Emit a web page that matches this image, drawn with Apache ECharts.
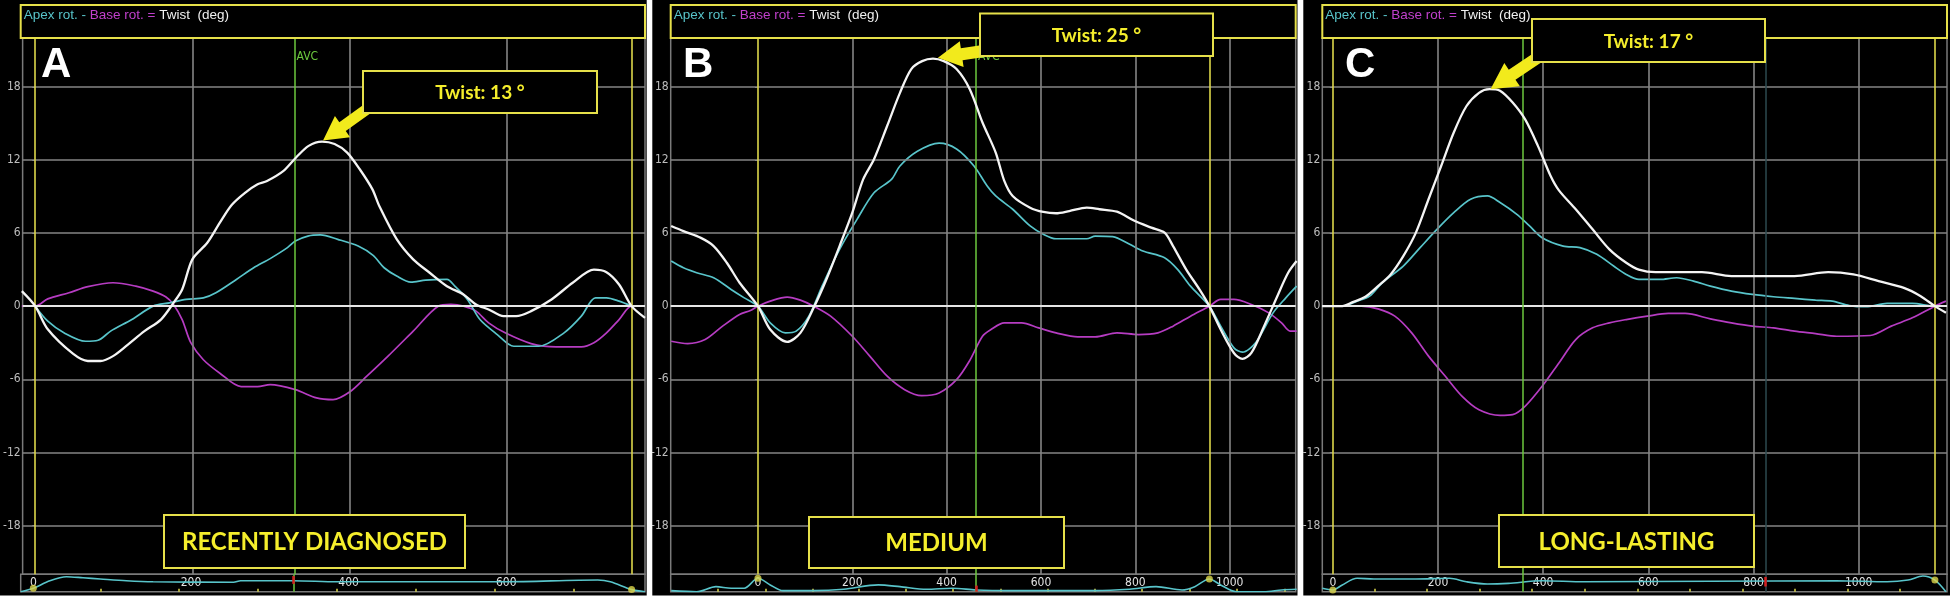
<!DOCTYPE html>
<html><head><meta charset="utf-8">
<script src="https://cdn.jsdelivr.net/npm/echarts@6/dist/echarts.min.js"></script>
<style>html,body{margin:0;padding:0;background:#fff;}#c{width:1950px;height:599px;}</style>
</head><body><div id="c"></div>
<script>
// ---------------- DATA ----------------
const yTickValues = [-18, -12, -6, 0, 6, 12, 18];
const panelLetters = ['A', 'B', 'C'];
const twistLabels = ['Twist: 13 °', 'Twist: 25 °', 'Twist: 17 °'];
const groupLabels = ['RECENTLY DIAGNOSED', 'MEDIUM', 'LONG-LASTING'];

// Panel A (time in ms, rotation in deg)
const xRangeA = [-16, 776];
const xLabelsA = [0, 200, 400, 600];
const stripTicksA = [85, 185, 285, 385, 485, 585, 685];
const eventsA = { start: 0, end: 759, avc: 330 };
const redMarkA = [330, 0.45, 0.9];
const twistA = [[-17,1.23],[0,0],[16,-1.9],[48,-3.9],[67,-4.5],[83,-4.5],[99,-4.1],[118,-3.15],[139,-2.05],[160,-1.1],[176,0.27],[187,1.37],[200,3.84],[219,5.2],[235,6.85],[250,8.3],[267,9.3],[283,10.0],[295,10.27],[316,11.1],[332,12.2],[348,13.15],[365,13.5],[381,13.3],[397,12.6],[413,11.23],[429,9.6],[438,8.2],[460,5.5],[481,3.84],[502,2.74],[524,1.64],[545,0.96],[561,0.14],[577,-0.27],[596,-0.82],[612,-0.82],[631,-0.41],[657,0.55],[684,1.92],[711,3.0],[727,2.79],[743,1.78],[759,0],[776,-0.96]];
const apexA = [[0,0],[16,-1.23],[37,-2.2],[64,-2.88],[80,-2.8],[96,-2.05],[123,-1.1],[150,0],[171,0.27],[192,0.55],[214,0.68],[230,1.1],[256,2.19],[278,3.15],[299,3.9],[321,4.8],[331,5.34],[347,5.75],[363,5.84],[385,5.48],[411,4.93],[430,4.16],[444,3.15],[460,2.47],[478,1.97],[497,2.14],[524,2.19],[534,1.64],[550,0.55],[566,-1.1],[588,-2.33],[609,-3.29],[641,-3.29],[673,-2.19],[695,-0.82],[713,0.68],[727,0.68],[743,0.41],[759,0]];
const baseA = [[-17,0],[0,0],[16,0.6],[43,1.1],[67,1.6],[99,1.92],[128,1.64],[150,1.23],[166,0.77],[176,0.14],[187,-1.1],[198,-3.0],[214,-4.4],[235,-5.5],[262,-6.6],[283,-6.6],[299,-6.44],[331,-6.85],[358,-7.53],[379,-7.67],[401,-7.0],[422,-5.75],[449,-4.1],[481,-2.05],[513,0],[529,0.14],[545,0],[561,-0.41],[577,-1.37],[598,-2.19],[631,-3.07],[663,-3.34],[695,-3.34],[711,-3.0],[727,-2.19],[743,-1.1],[759,0],[776,0]];
const stripA = [[-16,0],[0,0.2],[21,0.63],[42,0.86],[63,0.8],[85,0.73],[118,0.63],[152,0.57],[254,0.54],[263,0.63],[330,0.63],[385,0.57],[598,0.57],[716,0.67],[732,0.57],[759,0.12],[776,0]];

// Panel B
const xRangeB = [-185, 1140];
const xLabelsB = [0, 200, 400, 600, 800, 1000];
const stripTicksB = [-85, 16, 116, 214, 314, 414, 515, 614, 715, 814, 915, 1016, 1116];
const eventsB = { start: 0, end: 957, avc: 462 };
const redMarkB = [462, 0, 0.35];
const twistB = [[-184,6.58],[-158,6.16],[-121,5.6],[-94,4.93],[-66,3.56],[-39,1.92],[0,0],[26,-1.92],[62,-2.93],[90,-2.19],[118,-0.14],[145,2.19],[173,4.93],[200,7.67],[223,10.4],[246,12.05],[274,14.8],[301,17.5],[325,19.45],[348,20.1],[371,20.3],[394,20.1],[421,19.45],[449,17.8],[476,15.07],[504,12.6],[522,10.3],[540,9.04],[577,8.08],[605,7.73],[632,7.62],[660,7.8],[697,8.08],[724,7.95],[761,7.75],[798,7.0],[834,6.44],[862,6.03],[880,4.93],[908,3.0],[936,1.37],[957,0],[981,-1.92],[1009,-3.84],[1027,-4.33],[1046,-3.84],[1073,-1.64],[1101,0.82],[1124,2.74],[1142,3.7]];
const apexB = [[-184,3.7],[-158,3.15],[-130,2.74],[-94,2.33],[-57,1.37],[-29,0.68],[0,0],[26,-1.37],[58,-2.19],[81,-2.05],[108,-0.82],[136,1.64],[173,4.66],[210,7.12],[246,9.3],[283,10.4],[301,11.5],[338,12.7],[384,13.37],[421,12.9],[458,11.5],[486,9.86],[504,9.04],[540,7.95],[577,6.58],[605,5.9],[632,5.53],[669,5.53],[697,5.53],[715,5.75],[752,5.7],[788,5.07],[816,4.52],[862,3.97],[890,3.0],[917,1.64],[957,0],[981,-1.64],[1009,-3.42],[1027,-3.78],[1055,-3.0],[1092,-0.55],[1119,0.68],[1142,1.64]];
const baseB = [[-184,-2.88],[-149,-3.07],[-112,-2.74],[-75,-1.64],[-39,-0.68],[-16,-0.36],[0,0],[26,0.41],[62,0.74],[90,0.49],[118,0],[154,-0.82],[200,-2.47],[237,-4.1],[274,-5.75],[311,-6.85],[347,-7.34],[384,-7.12],[421,-6.03],[448,-4.52],[476,-2.47],[494,-1.92],[522,-1.37],[559,-1.37],[595,-1.78],[632,-2.19],[678,-2.52],[715,-2.52],[761,-2.19],[807,-2.33],[848,-2.19],[880,-1.64],[917,-0.82],[957,0],[981,0.55],[1009,0.55],[1046,0.14],[1083,-0.55],[1110,-1.37],[1128,-2.05],[1142,-2.05]];
const stripB = [[-184,0.06],[-130,0],[-89,0.29],[-57,0.2],[-29,0.2],[0,0.77],[26,0.39],[53,0.06],[118,0.06],[182,0.14],[255,0.39],[301,0.29],[357,0.14],[412,0.2],[462,0.1],[531,0.06],[715,0.06],[788,0.14],[844,0.29],[899,0.1],[926,0.29],[957,0.73],[981,0.39],[1014,0],[1073,0],[1110,0.1],[1142,0.14]];

// Panel C
const xRangeC = [-20, 1168];
const xLabelsC = [0, 200, 400, 600, 800, 1000];
const stripTicksC = [79, 179, 279, 379, 479, 579, 679, 779, 879, 979, 1079];
const eventsC = { start: 0, end: 1145, avc: 361, mark: 823 };
const redMarkC = [823, 0.3, 0.85];
const twistC = [[-20,0],[18,0],[38,0.33],[62,0.77],[86,1.64],[110,2.6],[134,4.1],[158,6.03],[182,8.77],[206,11.5],[230,14.25],[254,16.4],[278,17.5],[298,17.8],[318,17.67],[342,16.7],[366,15.3],[390,13.15],[414,10.7],[430,9.5],[462,7.95],[494,6.3],[526,4.66],[558,3.56],[582,3.0],[614,2.79],[702,2.79],[758,2.47],[878,2.47],[942,2.79],[990,2.6],[1038,2.05],[1086,1.5],[1118,0.82],[1145,0],[1166,-0.55]];
const apexC = [[-20,0],[18,0],[46,0.41],[70,0.82],[94,1.92],[134,3.29],[166,4.8],[198,6.3],[230,7.67],[262,8.77],[294,9.04],[318,8.5],[350,7.53],[374,6.58],[398,5.62],[438,4.93],[470,4.8],[502,4.25],[534,3.29],[558,2.6],[582,2.19],[622,2.19],[654,2.33],[686,2.05],[718,1.64],[758,1.23],[798,0.96],[838,0.77],[878,0.63],[918,0.49],[950,0.41],[982,0.05],[1014,-0.05],[1054,0.22],[1102,0.22],[1145,0],[1166,0]];
const baseC = [[-20,0],[54,0],[86,-0.22],[118,-0.82],[150,-2.19],[182,-4.1],[214,-5.75],[246,-7.4],[278,-8.5],[318,-8.96],[342,-8.9],[366,-8.2],[398,-6.58],[430,-4.66],[462,-2.74],[494,-1.78],[526,-1.37],[558,-1.1],[598,-0.82],[638,-0.6],[670,-0.6],[718,-1.04],[758,-1.37],[798,-1.64],[838,-1.78],[878,-2.05],[918,-2.25],[958,-2.47],[1022,-2.41],[1062,-1.64],[1102,-0.96],[1145,0],[1166,0.41]];
const stripC = [[-20,0.2],[0,0.1],[18,0.39],[46,0.77],[78,0.73],[158,0.73],[222,0.77],[254,0.57],[294,0.44],[334,0.48],[398,0.63],[478,0.57],[958,0.63],[1054,0.57],[1094,0.67],[1122,0.9],[1145,0.67],[1166,0]];

// ---------------- STYLE / LAYOUT ----------------
const COL = {
  twist: '#f4f4f4', apex: '#58c4ca', base: '#b63cc2', grid: '#858585', zero: '#e6e6e6',
  yellow: '#dcd64a', green: '#6cc83e', red: '#d42020', label: '#bdbdbd', stripLabel: '#e2e2e2',
  box: '#e6e04a', boxText: '#f5ee2c', arrow: '#f2ea1c', dark: '#2d4a4f'
};
const NARROW = '"Liberation Sans Narrow","DejaVu Sans Condensed","Arial Narrow",sans-serif';
const SANS = '"Liberation Sans", Arial, sans-serif';
const TOP = 38, H = 536.3, STRIP_TOP = 574.3, STRIP_H = 17.4;
const LAY = [
  { left: 20.7, width: 624.3 },
  { left: 670.7, width: 625 },
  { left: 1322.3, width: 624.7 }
];
const panels = [
  { twist: twistA, apex: apexA, base: baseA, strip: stripA, range: xRangeA, xLabels: xLabelsA, ticks: stripTicksA, ev: eventsA, red: redMarkA },
  { twist: twistB, apex: apexB, base: baseB, strip: stripB, range: xRangeB, xLabels: xLabelsB, ticks: stripTicksB, ev: eventsB, red: redMarkB },
  { twist: twistC, apex: apexC, base: baseC, strip: stripC, range: xRangeC, xLabels: xLabelsC, ticks: stripTicksC, ev: eventsC, red: redMarkC }
];

const grids = [], xAxes = [], yAxes = [], series = [];
panels.forEach((p, i) => {
  const m = 2 * i, s = 2 * i + 1, L = LAY[i];
  grids.push({ left: L.left, top: TOP, width: L.width, height: H, show: true, borderColor: '#7a7a7a', borderWidth: 1.5, backgroundColor: 'transparent' });
  grids.push({ left: L.left, top: STRIP_TOP, width: L.width, height: STRIP_H, show: true, borderColor: '#7a7a7a', borderWidth: 1.5, backgroundColor: 'transparent' });
  xAxes.push({ gridIndex: m, type: 'value', min: p.range[0], max: p.range[1], show: false, splitLine: { show: false } });
  xAxes.push({ gridIndex: s, type: 'value', min: p.range[0], max: p.range[1], position: 'bottom',
    axisLine: { show: false }, splitLine: { show: false },
    axisTick: { show: true, inside: true, length: 3, customValues: p.ticks, lineStyle: { color: COL.yellow, width: 1.5 } },
    axisLabel: { show: true, inside: true, margin: 3, customValues: p.xLabels, formatter: v => String(v), color: COL.stripLabel, fontSize: 12, fontFamily: NARROW, showMinLabel: true, showMaxLabel: true } });
  yAxes.push({ gridIndex: m, type: 'value', min: -22, max: 22,
    axisLine: { show: false }, splitLine: { show: false },
    axisTick: { show: true, length: 3, customValues: yTickValues, lineStyle: { color: '#9a9a9a' } },
    axisLabel: { show: true, margin: 2, customValues: yTickValues, color: COL.label, fontSize: 12, fontFamily: NARROW } });
  yAxes.push({ gridIndex: s, type: 'value', min: 0, max: 1, show: false, splitLine: { show: false } });

  const gl = [];
  yTickValues.filter(v => v !== 0).forEach(v => gl.push({ yAxis: v, lineStyle: { color: COL.grid, width: 1.6, type: 'solid' } }));
  p.xLabels.filter(v => v !== 0).forEach(v => gl.push({ xAxis: v, lineStyle: { color: COL.grid, width: 1.6, type: 'solid' } }));
  if (p.ev.mark !== undefined) gl.push({ xAxis: p.ev.mark, lineStyle: { color: COL.dark, width: 1.5, type: 'solid' } });
  gl.push({ yAxis: 0, lineStyle: { color: COL.zero, width: 2.2, type: 'solid' } });
  gl.push({ xAxis: p.ev.start, lineStyle: { color: COL.yellow, width: 1.6, type: 'solid' } });
  gl.push({ xAxis: p.ev.end, lineStyle: { color: COL.yellow, width: 1.6, type: 'solid' } });
  gl.push({ xAxis: p.ev.avc, lineStyle: { color: COL.green, width: 1.5, type: 'solid' } });
  series.push({ type: 'line', xAxisIndex: m, yAxisIndex: m, data: [], silent: true, z: 1,
    markLine: { symbol: 'none', silent: true, animation: false, label: { show: false }, data: gl } });

  const mk = (data, color, width, z) => ({ type: 'line', xAxisIndex: m, yAxisIndex: m, data: data, showSymbol: false, symbol: 'none',
    smooth: 0.3, z: z, lineStyle: { color: color, width: width }, silent: true });
  series.push(mk(p.base, COL.base, 1.7, 3));
  series.push(mk(p.apex, COL.apex, 1.7, 4));
  series.push(mk(p.twist, COL.twist, 2.3, 5));

  const stripML = [{ xAxis: p.ev.avc, lineStyle: { color: COL.green, width: 1.5, type: 'solid' } }];
  if (p.ev.mark !== undefined) stripML.push({ xAxis: p.ev.mark, lineStyle: { color: COL.dark, width: 1.5, type: 'solid' } });
  stripML.push([{ coord: [p.red[0], p.red[1]], lineStyle: { color: COL.red, width: 2.5, type: 'solid' } }, { coord: [p.red[0], p.red[2]] }]);
  series.push({ type: 'line', xAxisIndex: s, yAxisIndex: s, data: p.strip, showSymbol: false, symbol: 'none', smooth: 0.3, z: 3, silent: true,
    lineStyle: { color: COL.apex, width: 1.6 },
    markLine: { symbol: 'none', silent: true, animation: false, label: { show: false }, data: stripML } });
  const nearest = t => p.strip.reduce((a, b) => Math.abs(b[0] - t) < Math.abs(a[0] - t) ? b : a);
  series.push({ type: 'scatter', xAxisIndex: s, yAxisIndex: s, z: 6, silent: true, symbolSize: 7,
    itemStyle: { color: COL.yellow }, data: [nearest(p.ev.start), nearest(p.ev.end)] });
});

const chart = echarts.init(document.getElementById('c'));
chart.setOption({
  animation: false,
  backgroundColor: '#000',
  grid: grids, xAxis: xAxes, yAxis: yAxes, series: series
});

// ---------------- ANNOTATIONS ----------------
const ANN = [
  { letterX: 41, legend: [20.7, 5, 624.3, 33], tbox: [363, 71, 234, 42], tail: [374, 104], tipOff: [1, -1], shaft: 11, head: 26, headL: 24, gbox: [164, 515, 301, 53], avc: true },
  { letterX: 683, legend: [670.7, 5, 625, 33], tbox: [980, 13.5, 233, 42.5], tail: [990, 50], tipOff: [5, -1], shaft: 12, head: 26, headL: 24, gbox: [809, 517, 255, 51], avc: true },
  { letterX: 1345, legend: [1322.3, 5, 624.7, 33], tbox: [1532, 19, 233, 43], tail: [1552, 48], tipOff: [1, 0], shaft: 12, head: 28, headL: 26, gbox: [1499, 515, 255, 52], avc: false }
];
function arrowPts(tail, tip, sw, hw, hl) {
  const dx = tip[0] - tail[0], dy = tip[1] - tail[1], len = Math.hypot(dx, dy);
  const ux = dx / len, uy = dy / len, nx = -uy, ny = ux;
  const bx = tip[0] - ux * hl, by = tip[1] - uy * hl;
  return [[tail[0] + nx * sw / 2, tail[1] + ny * sw / 2], [bx + nx * sw / 2, by + ny * sw / 2], [bx + nx * hw / 2, by + ny * hw / 2], tip,
    [bx - nx * hw / 2, by - ny * hw / 2], [bx - nx * sw / 2, by - ny * sw / 2], [tail[0] - nx * sw / 2, tail[1] - ny * sw / 2]];
}
const g = [];
panels.forEach((p, i) => {
  const a = ANN[i];
  // legend box
  g.push({ type: 'rect', z: 40, shape: { x: a.legend[0], y: a.legend[1], width: a.legend[2], height: a.legend[3] }, style: { fill: '#000', stroke: COL.box, lineWidth: 2 } });
  g.push({ type: 'text', z: 41, x: a.legend[0] + 3, y: 15.5, style: {
    text: '{a|Apex rot. - }{b|Base rot. = }{c|Twist  (deg)}', textVerticalAlign: 'middle',
    rich: { a: { fill: COL.apex, font: '13.5px ' + SANS }, b: { fill: '#c040cc', font: '13.5px ' + SANS }, c: { fill: '#f0f0f0', font: '13.5px ' + SANS } } } });
  // letter
  g.push({ type: 'text', z: 41, x: a.letterX, y: 65, style: { text: panelLetters[i], fill: '#fff', font: 'bold 42px "Liberation Sans", Arial, sans-serif', textVerticalAlign: 'middle' } });
  // AVC label
  if (a.avc) {
    const pa = chart.convertToPixel({ gridIndex: 2 * i }, [p.ev.avc, 0]);
    g.push({ type: 'text', z: 10, x: pa[0] + 2, y: 57, style: { text: 'AVC', fill: COL.green, font: '12px ' + NARROW, textVerticalAlign: 'middle' } });
  }
  // arrow to twist peak
  const peak = p.twist.reduce((m, d) => d[1] > m[1] ? d : m);
  const pp = chart.convertToPixel({ gridIndex: 2 * i }, peak);
  const tip = [pp[0] + a.tipOff[0], pp[1] + a.tipOff[1]];
  g.push({ type: 'polygon', z: 50, shape: { points: arrowPts(a.tail, tip, a.shaft, a.head, a.headL) }, style: { fill: COL.arrow } });
  // twist box
  g.push({ type: 'rect', z: 52, shape: { x: a.tbox[0], y: a.tbox[1], width: a.tbox[2], height: a.tbox[3] }, style: { fill: '#000', stroke: COL.box, lineWidth: 2 } });
  g.push({ type: 'text', z: 53, x: a.tbox[0] + a.tbox[2] / 2, y: a.tbox[1] + a.tbox[3] / 2 + 1, style: { text: twistLabels[i], fill: COL.boxText, font: 'bold 19px Lato, "Open Sans", sans-serif', textAlign: 'center', textVerticalAlign: 'middle' } });
  // group box
  g.push({ type: 'rect', z: 52, shape: { x: a.gbox[0], y: a.gbox[1], width: a.gbox[2], height: a.gbox[3] }, style: { fill: '#000', stroke: COL.box, lineWidth: 2 } });
  g.push({ type: 'text', z: 53, x: a.gbox[0] + a.gbox[2] / 2, y: a.gbox[1] + a.gbox[3] / 2 + 1, style: { text: groupLabels[i], fill: COL.boxText, font: 'bold 24px Lato, "Open Sans", sans-serif', textAlign: 'center', textVerticalAlign: 'middle' } });
});
// white gaps between panels and below
g.push({ type: 'rect', z: 100, shape: { x: 646.7, y: 0, width: 5.6, height: 599 }, style: { fill: '#fff' } });
g.push({ type: 'rect', z: 100, shape: { x: 1297.5, y: 0, width: 5.8, height: 599 }, style: { fill: '#fff' } });
g.push({ type: 'rect', z: 100, shape: { x: 0, y: 595.5, width: 1950, height: 4 }, style: { fill: '#fff' } });
chart.setOption({ graphic: g });
</script>
</body></html>
